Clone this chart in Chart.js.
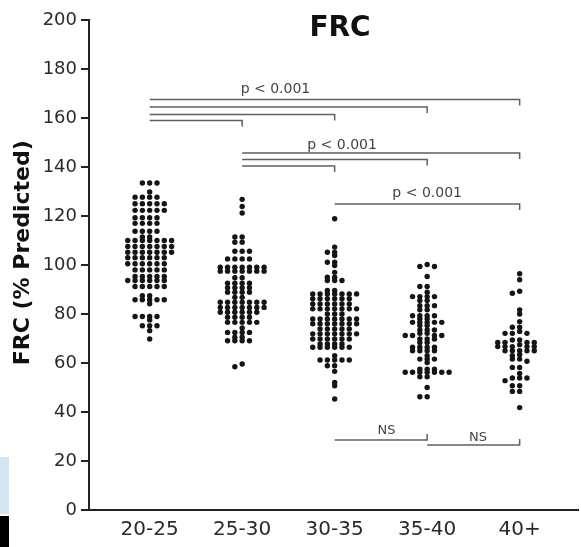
<!DOCTYPE html>
<html>
<head>
<meta charset="utf-8">
<title>FRC</title>
<script src="https://cdn.jsdelivr.net/npm/chart.js@4"></script>
<style>
  html, body { margin: 0; padding: 0; background: #fff; }
  #wrap { width: 581px; height: 547px; }
</style>
</head>
<body>
<div id="wrap"><canvas id="frcChart" width="581" height="547"></canvas></div>
<script>
// Age groups (x categories)
const categories = ['20-25', '25-30', '30-35', '35-40', '40+'];

// FRC (% predicted), one value per subject
const frc20to25 = [133.5, 133.5, 133.5, 129.8, 127.7, 127.7, 127.7, 127.7,
  125, 125, 125, 125, 125, 122.3, 122.3, 122.3, 122.3, 122.3,
  119.3, 119.3, 119.3, 119.3, 117, 117, 117, 117, 113.8, 113.8, 113.8, 113.8,
  111.4, 111.4, 110, 110, 110, 110, 110, 110, 110,
  107.6, 107.6, 107.6, 107.6, 107.6, 107.6, 107.6,
  105.2, 105.2, 105.2, 105.2, 105.2, 105.2, 105.2,
  103, 103, 103, 103, 103, 103, 100.5, 100.5, 100.5, 100.5, 100.5, 100.5,
  98, 98, 98, 98, 98, 95.3, 95.3, 95.3, 95.3, 95.3,
  93.7, 93.7, 93.7, 93.7, 93.7, 93.7, 91.2, 91.2, 91.2, 91.2, 91.2,
  87.5, 87.5, 85.8, 85.8, 85.8, 85.8, 85.8, 84.2,
  79, 79, 79, 79, 77.6, 75.2, 75.2, 75.2, 73.2, 69.8];

const frc25to30 = [126.8, 123.9, 121.2, 111.4, 111.4, 109.3, 109.3,
  105.6, 105.6, 105.6, 102.5, 102.5, 102.5, 102.5,
  99.1, 99.1, 99.1, 99.1, 99.1, 99.1, 99.1, 97.5, 97.5, 97.5, 97.5, 97.5, 97.5, 97.5,
  94.8, 94.8, 92.6, 92.6, 92.6, 92.6, 90.7, 90.7, 90.7, 90.7,
  88.9, 88.9, 88.9, 88.9, 86.8, 86.8,
  84.8, 84.8, 84.8, 84.8, 84.8, 84.8, 84.8, 82.7, 82.7, 82.7, 82.7, 82.7, 82.7, 82.7,
  80.7, 80.7, 80.7, 80.7, 80.7, 80.7, 78.7, 78.7, 78.7, 78.7,
  76.6, 76.6, 76.6, 76.6, 76.6, 74.3, 72.5, 72.5, 72.5, 72.5,
  70.5, 70.5, 69.1, 69.1, 69.1, 69.1, 59.6, 58.5];

const frc30to35 = [118.9, 107.3, 105.2, 105.2, 103.9, 101.1, 101.1, 99.8, 97,
  95, 95, 93.7, 93.7, 93.7, 89.6, 89.6,
  88.2, 88.2, 88.2, 88.2, 88.2, 88.2, 88.2, 86.2, 86.2, 86.2, 86.2, 86.2, 86.2,
  84.1, 84.1, 84.1, 84.1, 84.1, 84.1, 82.1, 82.1, 82.1, 82.1, 82.1, 82.1, 82.1,
  80, 80, 80, 78, 78, 78, 78, 78, 78, 78, 76, 76, 76, 76, 76, 76, 76,
  73.9, 73.9, 73.9, 73.9, 73.9, 71.9, 71.9, 71.9, 71.9, 71.9, 71.9, 71.9,
  69.8, 69.8, 69.8, 69.8, 69.8, 69.8, 67.8, 67.8, 67.8, 67.8,
  66.4, 66.4, 66.4, 66.4, 66.4, 66.4, 63, 61.2, 61.2, 61.2, 61.2, 61.2,
  58.9, 58.9, 56.6, 52.1, 50.7, 45.3];

const frc35to40 = [100.2, 99.4, 99.4, 95.3, 91.2, 91.2, 88.9, 87.1, 87.1, 87.1, 87.1,
  85.5, 85.5, 83.4, 83.4, 83.4, 81.7, 81.7, 79.3, 79.3, 79.3, 79.3, 78, 78,
  76.6, 76.6, 76.6, 76.6, 76.6, 75.3, 75.3, 73.5, 73.5, 73.5, 72.1, 72.1,
  71.2, 71.2, 71.2, 71.2, 69.8, 69.8, 69.8, 68.4, 68.4,
  66.4, 66.4, 66.4, 66.4, 65, 65, 65, 65, 63, 61.6, 61.6, 61.6, 60.2,
  57.5, 57.5, 57.5, 56.2, 56.2, 56.2, 56.2, 56.2, 56.2, 56.2, 54.4, 54.4,
  50, 46.2, 46.2];

const frc40plus = [96.4, 94, 89.3, 88.5, 81.7, 80, 76.9, 74.6, 74.6, 72.9,
  72.1, 72.1, 72.1, 69.4, 69.4, 68.4, 68.4, 68.4, 68.4, 67.5,
  66.7, 66.7, 66.7, 66.7, 66.7, 65, 65, 65, 65, 65, 63.4, 63,
  61.6, 61.6, 60.7, 58.2, 58.2, 55.7, 53.9, 53.9, 53.9, 52.8,
  50.7, 50.7, 48.4, 48.4, 41.8];

const groups = [frc20to25, frc25to30, frc30to35, frc35to40, frc40plus];

// Significance brackets: from group, to group, level (% predicted)
const sigFrom = [0, 0, 0, 0, 1, 1, 1, 2, 2, 3];
const sigTo = [4, 3, 2, 1, 4, 3, 2, 4, 3, 4];
const sigLevel = [167.6, 164.5, 161.4, 159.0, 145.7, 143.1, 140.4, 124.9, 28.6, 26.5];
const sigLabels = ['p < 0.001', 'p < 0.001', 'p < 0.001', 'NS', 'NS'];

// Label anchors (x in group units, y in % predicted)
const labelAnchors = [
  { x: 1.36, y: 171.8, size: 14 },
  { x: 2.08, y: 149.0, size: 14 },
  { x: 3.0, y: 129.4, size: 14 },
  { x: 2.56, y: 32.2, size: 13 },
  { x: 3.55, y: 29.5, size: 13 }
];

// GraphPad-like column scatter: dots sit on a grid of slots,
// a slot is taken if a dot already there is too close in value
const SLOT = 0.079;  // slot width in group units
const MIN_DY = 1.2;  // min value gap within one slot
function columnScatter(values, center) {
  const sorted = [...values].sort((a, b) => b - a);
  const placed = [];
  sorted.forEach(v => {
    for (let k = 0; k < 40; k++) {
      const slot = k === 0 ? 0 : (k % 2 ? -Math.ceil(k / 2) : k / 2);
      const clash = placed.some(p => p.slot === slot && Math.abs(p.y - v) < MIN_DY);
      if (!clash) {
        placed.push({ slot: slot, y: v });
        break;
      }
    }
  });
  return placed.map(p => ({ x: center + p.slot * SLOT, y: p.y }));
}

const FONT = "'DejaVu Sans', sans-serif";

// Title, axis title, brackets and labels
const annotations = {
  id: 'annotations',
  beforeDraw(chart) {
    const ctx = chart.ctx;
    ctx.save();
    // bits of the neighbouring figure at the left edge
    ctx.fillStyle = '#d5e6f2';
    ctx.fillRect(0, 457, 9, 57);
    ctx.fillStyle = '#000';
    ctx.fillRect(0, 516, 9, 31);
    ctx.restore();
  },
  afterDatasetsDraw(chart) {
    const ctx = chart.ctx;
    const xs = chart.scales.x;
    const ys = chart.scales.y;
    const area = chart.chartArea;
    ctx.save();

    ctx.fillStyle = '#111';
    ctx.textAlign = 'center';
    ctx.textBaseline = 'middle';
    ctx.font = 'bold 28px ' + FONT;
    ctx.fillText('FRC', 340, area.top + 9);

    ctx.save();
    ctx.translate(23, ys.getPixelForValue(105));
    ctx.rotate(-Math.PI / 2);
    ctx.font = 'bold 22px ' + FONT;
    ctx.fillText('FRC (% Predicted)', 0, 0);
    ctx.restore();

    ctx.strokeStyle = '#606060';
    ctx.lineWidth = 1.5;
    sigFrom.forEach((from, i) => {
      const x1 = xs.getPixelForValue(from);
      const x2 = xs.getPixelForValue(sigTo[i]);
      const y = ys.getPixelForValue(sigLevel[i]);
      const hook = sigLevel[i] > 60 ? 6 : -6;
      ctx.beginPath();
      ctx.moveTo(x1, y);
      ctx.lineTo(x2, y);
      ctx.lineTo(x2, y + hook);
      ctx.stroke();
    });

    ctx.fillStyle = '#444';
    sigLabels.forEach((text, i) => {
      const a = labelAnchors[i];
      ctx.font = a.size + 'px ' + FONT;
      ctx.fillText(text, xs.getPixelForValue(a.x), ys.getPixelForValue(a.y));
    });
    ctx.restore();
  }
};

const ctx = document.getElementById('frcChart').getContext('2d');
const frcChart = new Chart(ctx, {
  type: 'scatter',
  data: {
    datasets: groups.map((values, i) => ({
      label: categories[i],
      data: columnScatter(values, i),
      pointRadius: 2.7,
      pointBackgroundColor: '#151515',
      pointBorderWidth: 0,
      pointHoverRadius: 2.7
    }))
  },
  options: {
    responsive: false,
    devicePixelRatio: 1,
    animation: false,
    layout: {
      padding: { top: 20, right: 0, bottom: 0, left: 0 }
    },
    plugins: {
      legend: { display: false },
      tooltip: { enabled: false }
    },
    scales: {
      x: {
        type: 'linear',
        min: -0.656,
        max: 4.634,
        afterBuildTicks: scale => {
          scale.ticks = categories.map((c, i) => ({ value: i }));
        },
        afterFit: scale => { scale.height = 37; },
        grid: { display: false },
        border: { display: true, color: '#222', width: 2 },
        ticks: {
          padding: 0,
          color: '#2a2a2a',
          font: { family: FONT, size: 20 },
          callback: value => categories[value]
        }
      },
      y: {
        min: 0,
        max: 200,
        afterFit: scale => { scale.width = 89; },
        grid: {
          display: true,
          drawOnChartArea: false,
          drawTicks: true,
          tickLength: 8,
          color: '#222',
          lineWidth: 2
        },
        border: { display: true, color: '#222', width: 2 },
        ticks: {
          stepSize: 20,
          padding: 4,
          color: '#2a2a2a',
          font: { family: FONT, size: 18 }
        }
      }
    }
  },
  plugins: [annotations]
});
</script>
</body>
</html>
